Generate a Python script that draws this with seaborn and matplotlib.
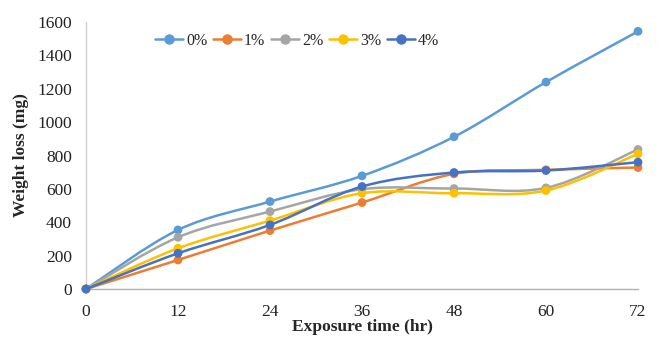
import numpy as np
import pandas as pd
import matplotlib
matplotlib.use('Agg')
import matplotlib.pyplot as plt
from matplotlib.path import Path
from matplotlib.patches import PathPatch
from matplotlib.lines import Line2D
import seaborn as sns

# ─────────────────────────────────────────────────────────────────────────────
# Data
# ─────────────────────────────────────────────────────────────────────────────
hours = [0, 12, 24, 36, 48, 60, 72]
doses = ['0%', '1%', '2%', '3%', '4%']
loss_0 = [0, 354, 524, 678, 912, 1240, 1544]
loss_1 = [0, 174, 350, 518, 690, 714, 728]
loss_2 = [0, 310, 464, 598, 602, 606, 836]
loss_3 = [0, 244, 410, 574, 574, 590, 810]
loss_4 = [0, 214, 384, 614, 698, 710, 760]
colors = ['#5B9BD5', '#ED7D31', '#A5A5A5', '#FFC000', '#4472C4']

series = [loss_0, loss_1, loss_2, loss_3, loss_4]
df = pd.DataFrame({
    'time': hours * len(doses),
    'loss': sum(series, []),
    'dose': np.repeat(doses, len(hours)),
})


def smooth_path(xs, ys):
    """Catmull-Rom style bezier path through the points (Excel 'smoothed line')."""
    pts = np.column_stack([xs, ys]).astype(float)
    n = len(pts)
    verts = [pts[0]]
    codes = [Path.MOVETO]
    for i in range(n - 1):
        p0 = pts[max(i - 1, 0)]
        p1 = pts[i]
        p2 = pts[i + 1]
        p3 = pts[min(i + 2, n - 1)]
        c1 = p1 + (p2 - p0) / 6.0
        c2 = p2 - (p3 - p1) / 6.0
        verts += [c1, c2, p2]
        codes += [Path.CURVE4] * 3
    return Path(verts, codes)


sns.set_style('white')
plt.rcParams['font.family'] = ['Liberation Serif', 'DejaVu Serif']

fig = plt.figure(figsize=(6.62, 3.41), dpi=100)
ax = fig.add_axes([86 / 662, 1 - 289 / 341, (638 - 86) / 662, (289 - 22) / 341])

for i, (dose, col) in enumerate(zip(doses, colors)):
    sub = df[df['dose'] == dose]
    ax.add_patch(PathPatch(smooth_path(sub['time'], sub['loss']), facecolor='none',
                           edgecolor=col, lw=1.8, zorder=2 + i * 2, capstyle='round'))
    sns.scatterplot(data=sub, x='time', y='loss', color=col, s=40, edgecolor='none',
                    ax=ax, zorder=3 + i * 2, legend=False, clip_on=False)

ax.set_xlim(0, 72)
ax.set_ylim(0, 1600)
ax.set_xticks(hours)
ax.set_yticks(range(0, 1601, 200))
ax.tick_params(axis='y', length=0, labelsize=12.5, colors='#222222', pad=10)
ax.tick_params(axis='x', length=0, labelsize=12.5, colors='#222222', pad=11)
ax.set_xlabel('Exposure time (hr)', fontsize=12.5, fontweight='bold', labelpad=-1)
ax.set_ylabel('Weight loss (mg)', fontsize=12.5, fontweight='bold', labelpad=6)

for side in ['top', 'right']:
    ax.spines[side].set_visible(False)
ax.spines['left'].set_color('#d0d0d0')
ax.spines['bottom'].set_color('#b0b0b0')
ax.spines['left'].set_linewidth(1.0)
ax.spines['bottom'].set_linewidth(1.0)

handles = [Line2D([0], [0], color=c, lw=1.8, marker='o', markersize=6.5) for c in colors]
ax.legend(handles, doses, loc='center left', bbox_to_anchor=(0.125, 0.93), ncol=5,
          frameon=False, fontsize=11.5, handlelength=1.75, handletextpad=0.2,
          columnspacing=0.35, borderpad=0, borderaxespad=0)

plt.savefig('out.png', dpi=100)
plt.close()
